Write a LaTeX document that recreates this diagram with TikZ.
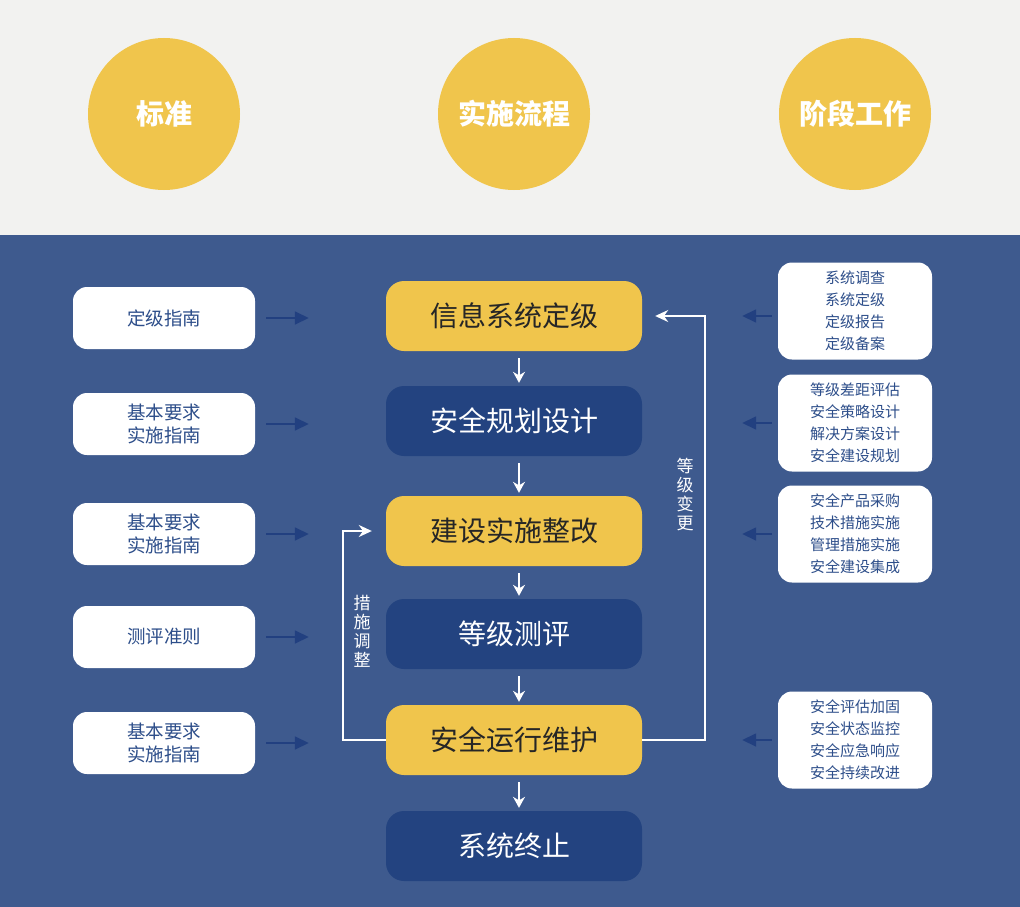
\documentclass[tikz,border=0pt]{standalone}
\usepackage{fontspec}
\setmainfont{Noto Sans CJK SC}
\usetikzlibrary{arrows.meta}
\definecolor{bggray}{RGB}{242,242,240}
\definecolor{bgblue}{RGB}{62,90,142}
\definecolor{boxblue}{RGB}{35,67,128}
\definecolor{boxyellow}{RGB}{240,197,76}
\definecolor{textblue}{RGB}{45,78,138}
\definecolor{arrowblue}{RGB}{34,64,128}

\tikzset{
  headcircle/.style={circle, fill=boxyellow, minimum size=152pt, text=white,
    font=\fontsize{28pt}{32pt}\selectfont\bfseries},
  stdbox/.style={rounded corners=14pt, fill=white, minimum width=182pt, minimum height=62pt,
    align=center, text=textblue, font=\fontsize{18.5pt}{23pt}\selectfont},
  workbox/.style={rounded corners=14pt, fill=white, minimum width=154pt, minimum height=97pt,
    align=center, text=textblue, font=\fontsize{15pt}{22pt}\selectfont},
  flowy/.style={rounded corners=18pt, fill=boxyellow, minimum width=256pt, minimum height=70pt,
    text=black!85, font=\fontsize{28pt}{32pt}\selectfont},
  flowb/.style={flowy, fill=boxblue, text=white},
  sidearrow/.style={-{Triangle[length=14pt,width=13pt]}, line width=1.6pt, arrowblue},
  downarrow/.style={-{Stealth[length=11pt,width=12pt]}, line width=1.5pt, white,
    shorten <=7pt, shorten >=3pt},
  loopline/.style={-{Stealth[length=13pt,width=12pt]}, line width=1.8pt, white},
  looplabel/.style={align=center, text=white, font=\fontsize{17pt}{19pt}\selectfont}
}

\begin{document}
\begin{tikzpicture}[x=1pt, y=-1pt]
    % background
    \fill[bggray] (0,0) rectangle (1020,235);
    \fill[bgblue] (0,235) rectangle (1020,907);
    \useasboundingbox (0,0) rectangle (1020,907);

    % headings
    \node[headcircle] (h1) at (164,114) {标准};
    \node[headcircle] (h2) at (514,114) {实施流程};
    \node[headcircle] (h3) at (855,114) {阶段工作};

    % process
    \node[flowy] (f1) at (514,316) {信息系统定级};
    \node[flowb] (f2) at (514,421) {安全规划设计};
    \node[flowy] (f3) at (514,531) {建设实施整改};
    \node[flowb] (f4) at (514,634) {等级测评};
    \node[flowy] (f5) at (514,740) {安全运行维护};
    \node[flowb] (f6) at (514,846) {系统终止};

    \foreach \i/\j in {1/2,2/3,3/4,4/5,5/6}
        \draw[downarrow] ([xshift=5pt]f\i.south) -- ([xshift=5pt]f\j.north);

    % standards
    \node[stdbox] (s1) at (164,318) {定级指南};
    \node[stdbox] (s2) at (164,424) {基本要求\\实施指南};
    \node[stdbox] (s3) at (164,534) {基本要求\\实施指南};
    \node[stdbox] (s4) at (164,637) {测评准则};
    \node[stdbox] (s5) at (164,743) {基本要求\\实施指南};

    \foreach \i in {1,...,5}
        \draw[sidearrow, shorten <=11pt, shorten >=77pt] (s\i.east) -- (s\i.east -| f\i.west);

    % stage work
    \node[workbox] (w1) at (855,311) {系统调查\\系统定级\\定级报告\\定级备案};
    \node[workbox] (w2) at (855,423) {等级差距评估\\安全策略设计\\解决方案设计\\安全建设规划};
    \node[workbox] (w3) at (855,534) {安全产品采购\\技术措施实施\\管理措施实施\\安全建设集成};
    \node[workbox] (w5) at (855,740) {安全评估加固\\安全状态监控\\安全应急响应\\安全持续改进};

    \draw[sidearrow, shorten <=6pt, shorten >=100pt] (w1.west |- f1.east) -- (f1.east);
    \draw[sidearrow, shorten <=6pt, shorten >=100pt] (w2.west) -- (w2.west -| f2.east);
    \draw[sidearrow, shorten <=6pt, shorten >=100pt] (w3.west) -- (w3.west -| f3.east);
    \draw[sidearrow, shorten <=6pt, shorten >=100pt] (w5.west) -- (w5.west -| f5.east);

    % feedback loops
    \coordinate (rx) at (705,0);
    \coordinate (lx) at (343,0);
    \draw[loopline, shorten >=13pt] (f5.east) -- (f5.east -| rx) -- (f1.east -| rx) -- (f1.east);
    \draw[loopline, shorten >=14pt] (f5.west) -- (f5.west -| lx) -- (f3.west -| lx) -- (f3.west);
    \node[looplabel] (lbl1) at (685,495) {等\\级\\变\\更};
    \node[looplabel] (lbl2) at (362,631) {措\\施\\调\\整};
\end{tikzpicture}
\end{document}
